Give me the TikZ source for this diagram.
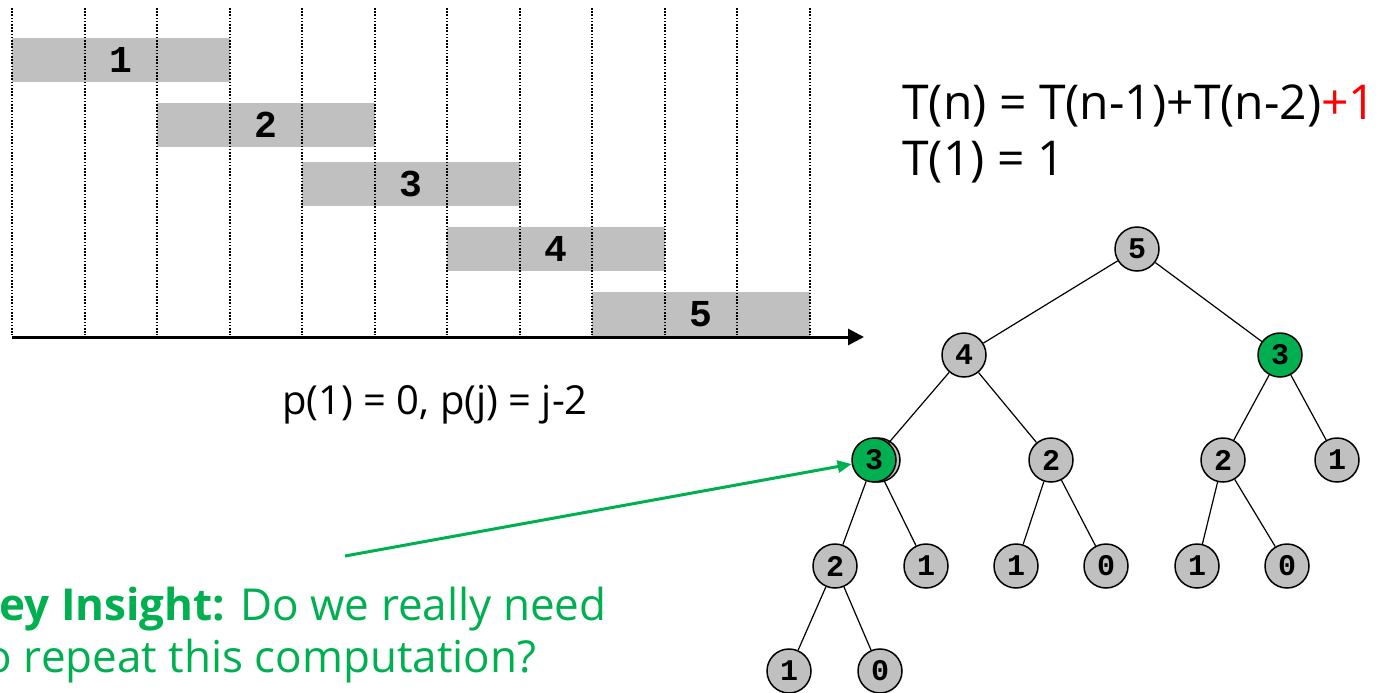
\documentclass[tikz,border=0pt]{standalone}
\usepackage{fontspec}
\setmainfont{Open Sans}
\setmonofont{Liberation Mono}
\usepackage{xcolor}
\usetikzlibrary{arrows.meta}
\definecolor{slotgrey}{RGB}{192,192,192}
\definecolor{hitgreen}{HTML}{00B050}

\begin{document}
\begin{tikzpicture}[x=0.5pt, y=-0.5pt,
  bar/.style={fill=slotgrey, draw=none},
  barlab/.style={font=\ttfamily\bfseries\fontsize{19}{19}\selectfont, inner sep=0pt},
  slot/.style={line width=1pt, dash pattern=on 0.8pt off 0.8pt},
  axis/.style={line width=1.5pt, -{Triangle[length=8pt, width=8pt]}},
  tnode/.style={circle, draw, line width=0.75pt, fill=slotgrey, minimum size=22pt,
                inner sep=0pt, font=\ttfamily\bfseries\fontsize{15}{15}\selectfont},
  hit/.style={tnode, fill=hitgreen},
  edge/.style={line width=0.6pt},
  insight/.style={draw=hitgreen, line width=1.5pt, -{Triangle[length=7pt, width=6pt]}},
  lab/.style={inner sep=0pt, font=\fontsize{24}{30}\selectfont}]
\useasboundingbox (0,0) rectangle (1389,692);
% intervals
\foreach \i/\xa/\ya in {1/12/38, 2/157/103, 3/302/162, 4/447/227, 5/592/292}
  \fill[bar] (\xa,\ya) rectangle ++(218,44);
\foreach \k in {0,...,11}
  \draw[slot] ({12+72.5*\k},8) -- ({12+72.5*\k},335);
\foreach \i/\xa/\ya in {1/12/38, 2/157/103, 3/302/162, 4/447/227, 5/592/292}
  \node[barlab] (b\i) at ({\xa+109},{\ya+22}) {\i};
\coordinate (o) at (12,337);
\coordinate (tend) at (864,337);
\draw[axis] (o) -- (tend);
\node[lab, font=\fontsize{20}{24}\selectfont] (p) at (435,405) {p(1) = 0, p(j) = j-2};

% recurrence
\node[lab, anchor=base west] (f1) at (902,119) {T(n) = T(n-1)+T(n-2)\textcolor{red}{+1}};
\node[lab, anchor=base west] (f2) at (902,175) {T(1) = 1};

% recursion tree
\node[tnode] (n5) at (1137,249) {5};
\node[tnode] (n4) at (964,355) {4};
\node[hit] (n3r) at (1280,355) {3};
\node[tnode] (n3s) at (878,460) {};
\node[hit] (n3l) at (874,460) {3};
\node[tnode] (n2a) at (1051,460) {2};
\node[tnode] (n2b) at (1223,460) {2};
\node[tnode] (n1a) at (1337,460) {1};
\node[tnode] (n2c) at (835,566) {2};
\node[tnode] (n1b) at (926,566) {1};
\node[tnode] (n1c) at (1016,566) {1};
\node[tnode] (n0a) at (1106,566) {0};
\node[tnode] (n1d) at (1197,566) {1};
\node[tnode] (n0b) at (1287,566) {0};
\node[tnode] (n1e) at (789,671) {1};
\node[tnode] (n0c) at (880,671) {0};
\foreach \a/\b in {n5/n4, n5/n3r, n4/n3l, n4/n2a, n3r/n2b, n3r/n1a, n3l/n2c, n3l/n1b,
                   n2a/n1c, n2a/n0a, n2b/n1d, n2b/n0b, n2c/n1e, n2c/n0c}
  \draw[edge] (\a) -- (\b);

% the repeated call
\coordinate (ki) at (345,556);
\draw[insight] (ki) -- (n3l);
\node[lab, text=hitgreen, anchor=base west, align=left, font=\fontsize{22}{26}\selectfont]
  (key) at (-30,672) {\textbf{Key Insight:} Do we really need\\to repeat this computation?};
\end{tikzpicture}
\end{document}
